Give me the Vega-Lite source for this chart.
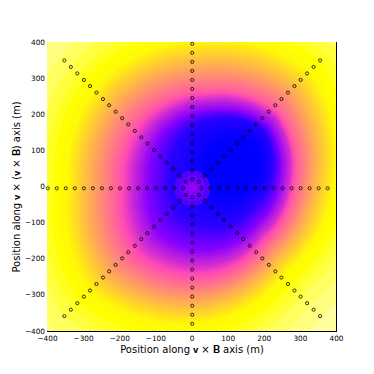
{
  "$schema": "https://vega.github.io/schema/vega-lite/v6.json",
  "autosize": {"type": "none"},
  "padding": {"left": 47, "top": 42, "right": 38, "bottom": 43},
  "width": 289,
  "height": 289,
  "background": "#ffffff",
  "config": {
    "view": {"stroke": null},
    "font": "DejaVu Sans",
    "axis": {
      "values": [-400, -300, -200, -100, 0, 100, 200, 300, 400],
      "grid": false,
      "domain": true,
      "domainColor": "#000000",
      "domainWidth": 1,
      "ticks": true,
      "tickSize": -3.5,
      "tickColor": "#000000",
      "tickWidth": 1,
      "labelFlush": false,
      "labelOverlap": false,
      "labelBound": false,
      "labelFont": "DejaVu Sans",
      "labelFontSize": 7.3,
      "labelColor": "#000000",
      "titleFont": "DejaVu Sans",
      "titleFontSize": 10,
      "titleFontWeight": "normal",
      "titleColor": "#000000",
      "titlePadding": 3,
      "zindex": 1
    }
  },
  "datasets": {
    "levels": [
      {"v": 0.98, "cx": 20, "cy": 12, "R": 1200},
      {"v": 0.97, "cx": 20, "cy": 12, "R": 640},
      {"v": 0.96, "cx": 21, "cy": 12, "R": 570},
      {"v": 0.95, "cx": 22, "cy": 12, "R": 520},
      {"v": 0.94, "cx": 22, "cy": 12, "R": 480},
      {"v": 0.93, "cx": 23, "cy": 12, "R": 452},
      {"v": 0.92, "cx": 24, "cy": 12, "R": 428},
      {"v": 0.91, "cx": 24, "cy": 12, "R": 408},
      {"v": 0.90, "cx": 25, "cy": 12, "R": 390},
      {"v": 0.885, "cx": 26, "cy": 12, "R": 384},
      {"v": 0.87, "cx": 26, "cy": 11, "R": 377},
      {"v": 0.855, "cx": 27, "cy": 11, "R": 371},
      {"v": 0.84, "cx": 27, "cy": 10, "R": 364},
      {"v": 0.825, "cx": 28, "cy": 10, "R": 358},
      {"v": 0.81, "cx": 28, "cy": 10, "R": 351},
      {"v": 0.795, "cx": 29, "cy": 9, "R": 345},
      {"v": 0.78, "cx": 29, "cy": 9, "R": 338},
      {"v": 0.765, "cx": 30, "cy": 8, "R": 332},
      {"v": 0.75, "cx": 30, "cy": 8, "R": 325},
      {"v": 0.735, "cx": 31, "cy": 8, "R": 319},
      {"v": 0.72, "cx": 32, "cy": 7, "R": 312},
      {"v": 0.705, "cx": 33, "cy": 7, "R": 306},
      {"v": 0.69, "cx": 34, "cy": 6, "R": 300},
      {"v": 0.675, "cx": 36, "cy": 6, "R": 294},
      {"v": 0.66, "cx": 37, "cy": 6, "R": 287},
      {"v": 0.645, "cx": 38, "cy": 5, "R": 281},
      {"v": 0.63, "cx": 39, "cy": 5, "R": 275},
      {"v": 0.615, "cx": 40, "cy": 4, "R": 268},
      {"v": 0.60, "cx": 41, "cy": 4, "R": 262},
      {"v": 0.585, "cx": 43, "cy": 5, "R": 257},
      {"v": 0.57, "cx": 45, "cy": 6, "R": 252},
      {"v": 0.555, "cx": 46, "cy": 8, "R": 248},
      {"v": 0.54, "cx": 48, "cy": 9, "R": 243},
      {"v": 0.525, "cx": 50, "cy": 10, "R": 238},
      {"v": 0.51, "cx": 52, "cy": 11, "R": 233},
      {"v": 0.495, "cx": 54, "cy": 12, "R": 228},
      {"v": 0.48, "cx": 55, "cy": 14, "R": 221},
      {"v": 0.465, "cx": 57, "cy": 15, "R": 215},
      {"v": 0.45, "cx": 59, "cy": 16, "R": 208},
      {"v": 0.435, "cx": 60, "cy": 17, "R": 202},
      {"v": 0.42, "cx": 62, "cy": 18, "R": 195},
      {"v": 0.405, "cx": 65, "cy": 21, "R": 189},
      {"v": 0.39, "cx": 67, "cy": 24, "R": 184},
      {"v": 0.375, "cx": 70, "cy": 26, "R": 178},
      {"v": 0.36, "cx": 72, "cy": 29, "R": 173},
      {"v": 0.345, "cx": 75, "cy": 32, "R": 167},
      {"v": 0.33, "cx": 77, "cy": 35, "R": 161},
      {"v": 0.315, "cx": 80, "cy": 37, "R": 156},
      {"v": 0.30, "cx": 82, "cy": 40, "R": 150},
      {"v": 0.29, "cx": 90, "cy": 44, "R": 138},
      {"v": 0.28, "cx": 97, "cy": 47, "R": 125},
      {"v": 0.27, "cx": 103, "cy": 50, "R": 112},
      {"v": 0.26, "cx": 108, "cy": 52, "R": 98},
      {"v": 0.25, "cx": 112, "cy": 54, "R": 82}
    ],
    "spot": [
      {"v": 0.35, "cx": 2, "cy": -5, "R": 50},
      {"v": 0.38, "cx": 2, "cy": -5, "R": 36},
      {"v": 0.41, "cx": 2, "cy": -5, "R": 24},
      {"v": 0.43, "cx": 2, "cy": -5, "R": 12}
    ],
    "stations": [
      {"x": -23, "y": -5}, {"x": -48, "y": -5}, {"x": -73, "y": -5}, {"x": -98, "y": -5},
      {"x": -123, "y": -5}, {"x": -148, "y": -5}, {"x": -173, "y": -5}, {"x": -198, "y": -5},
      {"x": -223, "y": -5}, {"x": -248, "y": -5}, {"x": -273, "y": -5}, {"x": -298, "y": -5},
      {"x": -323, "y": -5}, {"x": -348, "y": -5}, {"x": -373, "y": -5}, {"x": -398, "y": -5},
      {"x": 27, "y": -5}, {"x": 52, "y": -5}, {"x": 77, "y": -5}, {"x": 102, "y": -5},
      {"x": 127, "y": -5}, {"x": 152, "y": -5}, {"x": 177, "y": -5}, {"x": 202, "y": -5},
      {"x": 227, "y": -5}, {"x": 252, "y": -5}, {"x": 277, "y": -5}, {"x": 302, "y": -5},
      {"x": 327, "y": -5}, {"x": 352, "y": -5}, {"x": 377, "y": -5},
      {"x": 2, "y": 20}, {"x": 2, "y": 45}, {"x": 2, "y": 70}, {"x": 2, "y": 95},
      {"x": 2, "y": 120}, {"x": 2, "y": 145}, {"x": 2, "y": 170}, {"x": 2, "y": 195},
      {"x": 2, "y": 220}, {"x": 2, "y": 245}, {"x": 2, "y": 270}, {"x": 2, "y": 295},
      {"x": 2, "y": 320}, {"x": 2, "y": 345}, {"x": 2, "y": 370}, {"x": 2, "y": 395},
      {"x": 2, "y": -30}, {"x": 2, "y": -55}, {"x": 2, "y": -80}, {"x": 2, "y": -105},
      {"x": 2, "y": -130}, {"x": 2, "y": -155}, {"x": 2, "y": -180}, {"x": 2, "y": -205},
      {"x": 2, "y": -230}, {"x": 2, "y": -255}, {"x": 2, "y": -280}, {"x": 2, "y": -305},
      {"x": 2, "y": -330}, {"x": 2, "y": -355}, {"x": 2, "y": -380},
      {"x": 20, "y": 13}, {"x": 37, "y": 30}, {"x": 55, "y": 48}, {"x": 73, "y": 66},
      {"x": 90, "y": 83}, {"x": 108, "y": 101}, {"x": 126, "y": 119}, {"x": 143, "y": 136},
      {"x": 161, "y": 154}, {"x": 179, "y": 172}, {"x": 196, "y": 189}, {"x": 214, "y": 207},
      {"x": 232, "y": 225}, {"x": 249, "y": 242}, {"x": 267, "y": 260}, {"x": 285, "y": 278},
      {"x": 302, "y": 295}, {"x": 320, "y": 313}, {"x": 338, "y": 331}, {"x": 356, "y": 349},
      {"x": -16, "y": 13}, {"x": -33, "y": 30}, {"x": -51, "y": 48}, {"x": -69, "y": 66},
      {"x": -86, "y": 83}, {"x": -104, "y": 101}, {"x": -122, "y": 119}, {"x": -139, "y": 136},
      {"x": -157, "y": 154}, {"x": -175, "y": 172}, {"x": -192, "y": 189}, {"x": -210, "y": 207},
      {"x": -228, "y": 225}, {"x": -245, "y": 242}, {"x": -263, "y": 260}, {"x": -281, "y": 278},
      {"x": -298, "y": 295}, {"x": -316, "y": 313}, {"x": -334, "y": 331}, {"x": -352, "y": 349},
      {"x": 20, "y": -23}, {"x": 37, "y": -40}, {"x": 55, "y": -58}, {"x": 73, "y": -76},
      {"x": 90, "y": -93}, {"x": 108, "y": -111}, {"x": 126, "y": -129}, {"x": 143, "y": -146},
      {"x": 161, "y": -164}, {"x": 179, "y": -182}, {"x": 196, "y": -199}, {"x": 214, "y": -217},
      {"x": 232, "y": -235}, {"x": 249, "y": -252}, {"x": 267, "y": -270}, {"x": 285, "y": -288},
      {"x": 302, "y": -305}, {"x": 320, "y": -323}, {"x": 338, "y": -341}, {"x": 356, "y": -359},
      {"x": -16, "y": -23}, {"x": -33, "y": -40}, {"x": -51, "y": -58}, {"x": -69, "y": -76},
      {"x": -86, "y": -93}, {"x": -104, "y": -111}, {"x": -122, "y": -129}, {"x": -139, "y": -146},
      {"x": -157, "y": -164}, {"x": -175, "y": -182}, {"x": -192, "y": -199}, {"x": -210, "y": -217},
      {"x": -228, "y": -235}, {"x": -245, "y": -252}, {"x": -263, "y": -270}, {"x": -281, "y": -288},
      {"x": -298, "y": -305}, {"x": -316, "y": -323}, {"x": -334, "y": -341}, {"x": -352, "y": -359}
    ]
  },
  "resolve": {"axis": {"x": "independent", "y": "independent"}},
  "layer": [
    {
      "data": {"name": "levels"},
      "mark": {
        "type": "point",
        "shape": "M0.94,0A0.91,0.91,0,0,1,0.622,0.622A0.94,0.94,0,0,1,0,1A1.05,1.05,0,0,1,-0.778,0.778A1.02,1.02,0,0,1,-0.94,0A0.97,0.97,0,0,1,-0.707,-0.707A1,1,0,0,1,0,-1A1.05,1.05,0,0,1,0.778,-0.778A1.02,1.02,0,0,1,0.94,0Z",
        "filled": true,
        "opacity": 1,
        "strokeWidth": 0,
        "clip": true
      },
      "encoding": {
        "x": {
          "field": "cx", "type": "quantitative",
          "scale": {"domain": [-400, 400], "nice": false, "zero": false},
          "axis": {"orient": "bottom", "title": "Position along 𝐯 × 𝐁 axis (m)", "labelPadding": 6.5, "titlePadding": 3}
        },
        "y": {
          "field": "cy", "type": "quantitative",
          "scale": {"domain": [-400, 400], "nice": false, "zero": false},
          "axis": {"orient": "left", "title": "Position along 𝐯 × (𝐯 × 𝐁) axis (m)", "labelPadding": 6, "titlePadding": 3}
        },
        "size": {
          "field": "R", "type": "quantitative",
          "scale": {"type": "pow", "exponent": 2, "domain": [0, 1000], "range": [0, 522006]},
          "legend": null
        },
        "color": {
          "field": "v", "type": "quantitative",
          "scale": {"domain": [0.25, 0.42, 0.5625, 0.92, 1.0], "range": ["#0000ff", "#8700ff", "#ff49b6", "#ffff00", "#ffffff"], "interpolate": "rgb"},
          "legend": null
        },
        "order": {"field": "R", "type": "quantitative", "sort": "descending"}
      }
    },
    {
      "data": {"name": "spot"},
      "mark": {"type": "point", "shape": "circle", "filled": true, "opacity": 1, "strokeWidth": 0, "clip": true},
      "encoding": {
        "x": {"field": "cx", "type": "quantitative", "scale": {"domain": [-400, 400], "nice": false, "zero": false}, "axis": null},
        "y": {"field": "cy", "type": "quantitative", "scale": {"domain": [-400, 400], "nice": false, "zero": false}, "axis": null},
        "size": {"field": "R", "type": "quantitative", "scale": {"type": "pow", "exponent": 2, "domain": [0, 1000], "range": [0, 522006]}, "legend": null},
        "color": {"field": "v", "type": "quantitative", "scale": {"domain": [0.25, 0.42, 0.5625, 0.92, 1.0], "range": ["#0000ff", "#8700ff", "#ff49b6", "#ffff00", "#ffffff"], "interpolate": "rgb"}, "legend": null},
        "order": {"field": "R", "type": "quantitative", "sort": "descending"}
      }
    },
    {
      "data": {"name": "stations"},
      "mark": {"type": "point", "shape": "circle", "filled": false, "size": 10, "strokeWidth": 1, "color": "#000000", "opacity": 0.8},
      "encoding": {
        "x": {
          "field": "x", "type": "quantitative",
          "scale": {"domain": [-400, 400], "nice": false, "zero": false},
          "axis": {"orient": "top", "labels": false, "title": null}
        },
        "y": {
          "field": "y", "type": "quantitative",
          "scale": {"domain": [-400, 400], "nice": false, "zero": false},
          "axis": {"orient": "right", "labels": false, "title": null}
        }
      }
    }
  ]
}
